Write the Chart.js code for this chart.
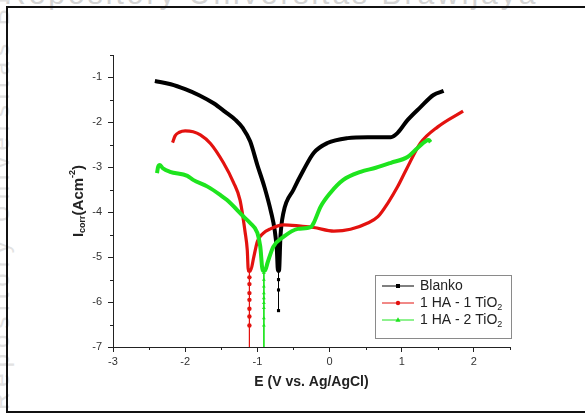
<!DOCTYPE html>
<html>
<head>
<meta charset="utf-8">
<script src="https://cdn.jsdelivr.net/npm/chart.js@4.4.0/dist/chart.umd.min.js"></script>
<style>
  html, body { margin: 0; padding: 0; background: #fff; overflow: hidden; }
  #wrap { position: relative; width: 585px; height: 415px; overflow: hidden; background: #fff; }
  #chart { position: absolute; left: 0; top: 0; }
  #frame { position: absolute; left: 6px; top: 6px; width: 620px; height: 407px; border: 2px solid #111; box-sizing: border-box; pointer-events: none; }
  .wm { position: absolute; color: #d4d4d4; font-family: 'Liberation Sans', Arial, sans-serif; white-space: nowrap; }
</style>
</head>
<body>
<div id="wrap">
  <div class="wm" style="left:4px; top:-23px; font-size:30px; letter-spacing:3px;">Repository Universitas Brawijaya</div>
  <div class="wm" style="left:-13px; top:410px; font-size:24px; letter-spacing:6px; transform-origin: 0 0; transform: rotate(-90deg); color:#e2e2e2;">Repository Universitas Brawijaya</div>
  <canvas id="chart" width="585" height="415"></canvas>
  <div id="frame"></div>
</div>
<script>
// axis ticks
const xTicks = [-3, -2, -1, 0, 1, 2];
const yTicks = [-7, -6, -5, -4, -3, -2, -1];

// Blanko
const blankoE = [-2.42, -2.2, -2.0, -1.8, -1.6, -1.45, -1.3, -1.2, -1.1, -1.0, -0.9, -0.81, -0.76, -0.73, -0.715,
                 -0.70, -0.68, -0.64, -0.50, -0.36, -0.22, -0.03, 0.25, 0.53, 0.85, 0.94, 1.08, 1.26, 1.44, 1.58];
const blankoI = [-1.08, -1.15, -1.26, -1.40, -1.58, -1.76, -1.95, -2.13, -2.42, -2.95, -3.45, -4.0, -4.4, -4.84, -5.3,
                 -5.3, -4.54, -4.02, -3.50, -3.06, -2.68, -2.46, -2.35, -2.33, -2.33, -2.24, -1.95, -1.66, -1.39, -1.30];
const blankoDipE = -0.707;
const blankoDipI = [-4.9, -5.1, -5.3, -5.5, -5.73, -6.19];

// 1 HA - 1 TiO2
const ha1E = [-2.175, -2.14, -2.08, -2.0, -1.89, -1.79, -1.65, -1.47, -1.33, -1.24, -1.17, -1.14, -1.125,
              -1.095, -1.05, -1.0, -0.92, -0.82, -0.64, -0.40, -0.22, 0.06, 0.29, 0.53, 0.67, 0.81, 0.94, 1.06, 1.26, 1.50, 1.85];
const ha1I = [-2.45, -2.30, -2.22, -2.19, -2.21, -2.28, -2.47, -2.90, -3.34, -3.73, -4.44, -4.84, -5.3,
              -5.3, -5.0, -4.65, -4.47, -4.37, -4.28, -4.31, -4.34, -4.42, -4.38, -4.24, -4.10, -3.79, -3.44, -3.06, -2.46, -2.10, -1.75];
const ha1DipE = -1.11;
const ha1DipI = [-5.3, -5.45, -5.6, -5.8, -5.95, -6.15, -6.32, -6.52, -7];

// 1 HA - 2 TiO2
const ha2E = [-2.39, -2.375, -2.35, -2.31, -2.21, -1.97, -1.89, -1.69, -1.51, -1.42, -1.19, -1.10, -1.0, -0.96, -0.925,
              -0.895, -0.86, -0.78, -0.64, -0.44, -0.26, -0.22, -0.125, 0.01, 0.19, 0.43, 0.64, 0.85, 1.08, 1.22, 1.375, 1.40];
const ha2I = [-3.13, -2.99, -2.95, -3.02, -3.10, -3.19, -3.28, -3.43, -3.62, -3.73, -4.10, -4.24, -4.46, -4.76, -5.3,
              -5.3, -5.13, -4.77, -4.55, -4.37, -4.33, -4.24, -3.88, -3.57, -3.28, -3.10, -3.01, -2.90, -2.77, -2.57, -2.39, -2.44];
const ha2DipE = -0.91;
const ha2DipI = [-5.35, -5.5, -5.65, -5.8, -5.91, -6.02, -6.13, -6.36, -6.52, -7];

const seriesNames = ['Blanko', '1 HA - 1 TiO', '1 HA - 2 TiO'];
const seriesSub = ['', '2', '2'];
const seriesColors = ['#000000', '#e3120f', '#1ee41e'];
const seriesMarkers = ['rect', 'circle', 'triangle'];

function pts(E, I) {
    return E.map((e, i) => ({ x: e, y: I[i] }));
}
function dipPts(e, I) {
    return I.map(v => ({ x: e, y: v }));
}

const FONT = "'Liberation Sans', Arial, sans-serif";

// minor ticks at the half values, shorter than the major ones
const minorTicks = {
    id: 'minorTicks',
    afterDraw(chart) {
        const c = chart.ctx;
        const xs = chart.scales.x, ys = chart.scales.y;
        const a = chart.chartArea;
        c.save();
        c.strokeStyle = '#222';
        c.lineWidth = 1;
        c.beginPath();
        for (let v = xs.min + 0.5; v <= xs.max + 1e-9; v += 1) {
            const px = Math.round(xs.getPixelForValue(v)) + 0.5;
            c.moveTo(px, a.bottom);
            c.lineTo(px, a.bottom + 3);
        }
        for (let v = ys.min + 0.5; v <= ys.max + 1e-9; v += 1) {
            const py = Math.round(ys.getPixelForValue(v)) + 0.5;
            c.moveTo(a.left - 3, py);
            c.lineTo(a.left, py);
        }
        c.stroke();
        c.restore();
    }
};

// y title with subscript / superscript
const yTitle = {
    id: 'yTitle',
    afterDraw(chart) {
        const c = chart.ctx;
        const a = chart.chartArea;
        const parts = [['I', 15, 0], ['corr', 9, 4], ['(Acm', 15, 0], ['-2', 9, -6], [')', 15, 0]];
        c.save();
        c.fillStyle = '#222';
        c.textBaseline = 'middle';
        let total = 0;
        const widths = parts.map(p => {
            c.font = 'bold ' + p[1] + 'px ' + FONT;
            const w = c.measureText(p[0]).width;
            total += w;
            return w;
        });
        c.translate(79, (a.top + a.bottom) / 2);
        c.rotate(-Math.PI / 2);
        let x = -total / 2;
        parts.forEach((p, i) => {
            c.font = 'bold ' + p[1] + 'px ' + FONT;
            c.fillText(p[0], x, p[2]);
            x += widths[i];
        });
        c.restore();
    }
};

// Origin style legend: thin line with the marker in the middle
const legendBox = {
    id: 'legendBox',
    afterDraw(chart) {
        const c = chart.ctx;
        const left = 375.5, top = 275.5, w = 136, h = 63;
        c.save();
        c.fillStyle = '#fff';
        c.fillRect(left, top, w, h);
        c.strokeStyle = '#8a8a8a';
        c.lineWidth = 1;
        c.strokeRect(left, top, w, h);
        seriesNames.forEach((name, i) => {
            const y = 286 + i * 17;
            c.strokeStyle = seriesColors[i];
            c.lineWidth = 1;
            c.beginPath();
            c.moveTo(382, y);
            c.lineTo(414, y);
            c.stroke();
            c.fillStyle = seriesColors[i];
            c.beginPath();
            if (seriesMarkers[i] === 'rect') {
                c.rect(396, y - 2, 4, 4);
            } else if (seriesMarkers[i] === 'circle') {
                c.arc(398, y, 2.2, 0, Math.PI * 2);
            } else {
                c.moveTo(398, y - 2.8);
                c.lineTo(400.6, y + 1.8);
                c.lineTo(395.4, y + 1.8);
                c.closePath();
            }
            c.fill();
            c.fillStyle = '#222';
            c.textBaseline = 'middle';
            c.font = '14px ' + FONT;
            c.fillText(name, 420, y);
            if (seriesSub[i]) {
                const tw = c.measureText(name).width;
                c.font = '9px ' + FONT;
                c.fillText(seriesSub[i], 420 + tw, y + 5);
            }
        });
        c.restore();
    }
};

const ctx = document.getElementById('chart').getContext('2d');
const curveSets = [
    [blankoE, blankoI, blankoDipE, blankoDipI, 4],
    [ha1E, ha1I, ha1DipE, ha1DipI, 3.2],
    [ha2E, ha2I, ha2DipE, ha2DipI, 4]
];
const datasets = [];
curveSets.forEach((s, i) => {
    datasets.push({
        label: seriesNames[i] + seriesSub[i],
        data: pts(s[0], s[1]),
        borderColor: seriesColors[i],
        backgroundColor: seriesColors[i],
        borderWidth: s[4],
        pointRadius: 0,
        cubicInterpolationMode: 'monotone',
        order: 10 - i * 2
    });
    datasets.push({
        label: seriesNames[i] + ' dip',
        data: dipPts(s[2], s[3]),
        borderColor: seriesColors[i],
        backgroundColor: seriesColors[i],
        borderWidth: 1,
        pointStyle: seriesMarkers[i],
        pointRadius: c => (c.raw && c.raw.y <= -7 ? 0 : 2.2),
        pointBorderWidth: 0,
        tension: 0,
        order: 9 - i * 2
    });
});

const chart = new Chart(ctx, {
    type: 'line',
    data: { datasets: datasets },
    options: {
        responsive: false,
        animation: false,
        devicePixelRatio: 1,
        layout: { padding: { left: 0, top: 55, right: 75, bottom: 0 } },
        plugins: {
            legend: { display: false },
            tooltip: { enabled: false }
        },
        scales: {
            x: {
                type: 'linear',
                min: xTicks[0],
                max: 2.5,
                afterFit: s => { s.height = 68; },
                afterBuildTicks: s => { s.ticks = xTicks.map(v => ({ value: v })); },
                grid: { drawOnChartArea: false, tickLength: 5, color: '#222' },
                border: { color: '#222', width: 1 },
                ticks: {
                    padding: 3,
                    color: '#333',
                    font: { family: FONT, size: 11 },
                    maxRotation: 0
                },
                title: {
                    display: true,
                    text: 'E (V vs. Ag/AgCl)',
                    color: '#222',
                    font: { family: FONT, size: 14, weight: 'bold' },
                    padding: { top: 0, bottom: 24 }
                }
            },
            y: {
                type: 'linear',
                min: yTicks[0],
                max: -0.5,
                afterFit: s => { s.width = 113; },
                afterBuildTicks: s => { s.ticks = yTicks.map(v => ({ value: v })); },
                grid: { drawOnChartArea: false, tickLength: 5, color: '#222' },
                border: { color: '#222', width: 1 },
                ticks: {
                    padding: 6,
                    color: '#333',
                    font: { family: FONT, size: 11 }
                }
            }
        }
    },
    plugins: [minorTicks, yTitle, legendBox]
});
</script>
</body>
</html>
